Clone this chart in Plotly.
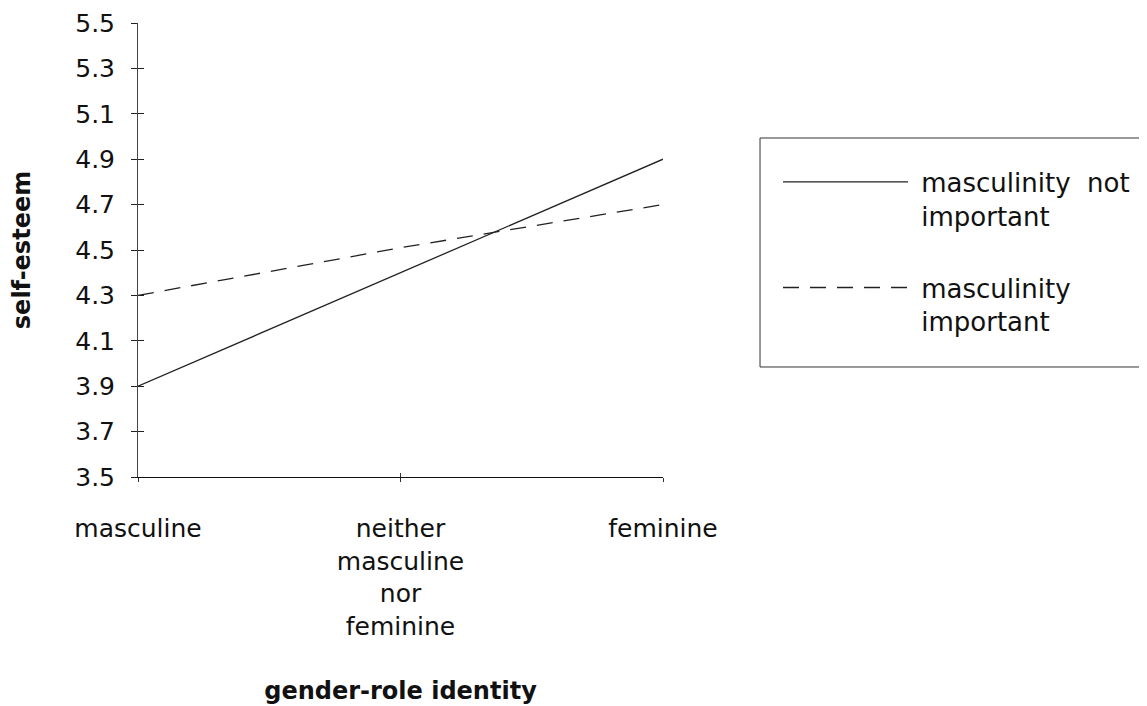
import plotly.graph_objects as go

categories = ["masculine", "neither<br>masculine<br>nor<br>feminine", "feminine"]
cat_pos = [0, 1, 2]
not_important = [3.9, 4.4, 4.9]
important = [4.3, 4.51, 4.7]
series_names = ["\u00a0masculinity\u00a0\u00a0not<br>\u00a0important", "\u00a0masculinity<br>\u00a0important"]
y_ticks = [3.5, 3.7, 3.9, 4.1, 4.3, 4.5, 4.7, 4.9, 5.1, 5.3, 5.5]
y_ticktext = ["3.5", "3.7", "3.9", "4.1", "4.3", "4.5", "4.7", "4.9", "5.1", "5.3", "5.5"]

FONT = "DejaVu Sans"
INK = "#111111"

fig = go.Figure()
fig.add_trace(go.Scatter(x=cat_pos, y=not_important, mode="lines", name=series_names[0],
                         legendgroup="a",
                         line=dict(color="#222222", width=1.3, dash="solid")))
fig.add_trace(go.Scatter(x=cat_pos, y=important, mode="lines", name=series_names[1],
                         legendgroup="b",
                         line=dict(color="#222222", width=1.3, dash="16px,11px")))
# invisible helper so the overlay axes (inner half of crossing ticks) render
fig.add_trace(go.Scatter(x=cat_pos, y=not_important, mode="lines", xaxis="x2", yaxis="y2",
                         showlegend=False, hoverinfo="skip", opacity=0,
                         line=dict(width=0)))

fig.update_layout(
    width=1139, height=698,
    margin=dict(l=130, r=484, t=15, b=229, autoexpand=False),
    paper_bgcolor="white", plot_bgcolor="white",
    font=dict(family=FONT, size=25, color=INK),
    showlegend=True,
    legend=dict(x=1.219, y=0.7015, xanchor="left", yanchor="top",
                borderwidth=0, bgcolor="rgba(0,0,0,0)",
                font=dict(family=FONT, size=26, color=INK),
                itemwidth=125, tracegroupgap=35, valign="top"),
    shapes=[dict(type="rect", xref="paper", yref="paper",
                 x0=1.1848, x1=1.914, y0=0.2423, y1=0.7467,
                 line=dict(color="#333333", width=1), layer="below")],
    xaxis=dict(range=[0, 2], tickvals=cat_pos, ticktext=categories,
               showline=True, linecolor="#111111", linewidth=1.2,
               ticks="outside", ticklen=4, tickcolor="#333333",
               showgrid=False, zeroline=False, ticklabelstandoff=25,
               ticklabeloverflow="allow", automargin=False,
               tickfont=dict(family=FONT, size=25, color=INK),
               title=dict(text="<b>gender-role identity</b>",
                          font=dict(family=FONT, size=24, color=INK), standoff=42)),
    yaxis=dict(range=[3.5, 5.5], tickvals=y_ticks, ticktext=y_ticktext,
               showline=True, linecolor="#444444", linewidth=1,
               ticks="outside", ticklen=6, tickcolor="#222222",
               showgrid=False, zeroline=False, ticklabelstandoff=11,
               ticklabeloverflow="allow", automargin=False,
               tickfont=dict(family=FONT, size=25, color=INK),
               title=dict(text="<b>self-esteem</b>",
                          font=dict(family=FONT, size=24, color=INK), standoff=38)),
    yaxis2=dict(range=[3.5, 5.5], overlaying="y", side="left", anchor="x",
                tickvals=y_ticks, ticks="inside", ticklen=6, tickcolor="#222222",
                showticklabels=False, showgrid=False, zeroline=False, showline=False),
    xaxis2=dict(range=[0, 2], overlaying="x", side="bottom", anchor="y",
                tickvals=cat_pos, ticks="inside", ticklen=4, tickcolor="#333333",
                showticklabels=False, showgrid=False, zeroline=False, showline=False),
)

fig.write_html("out.html")
